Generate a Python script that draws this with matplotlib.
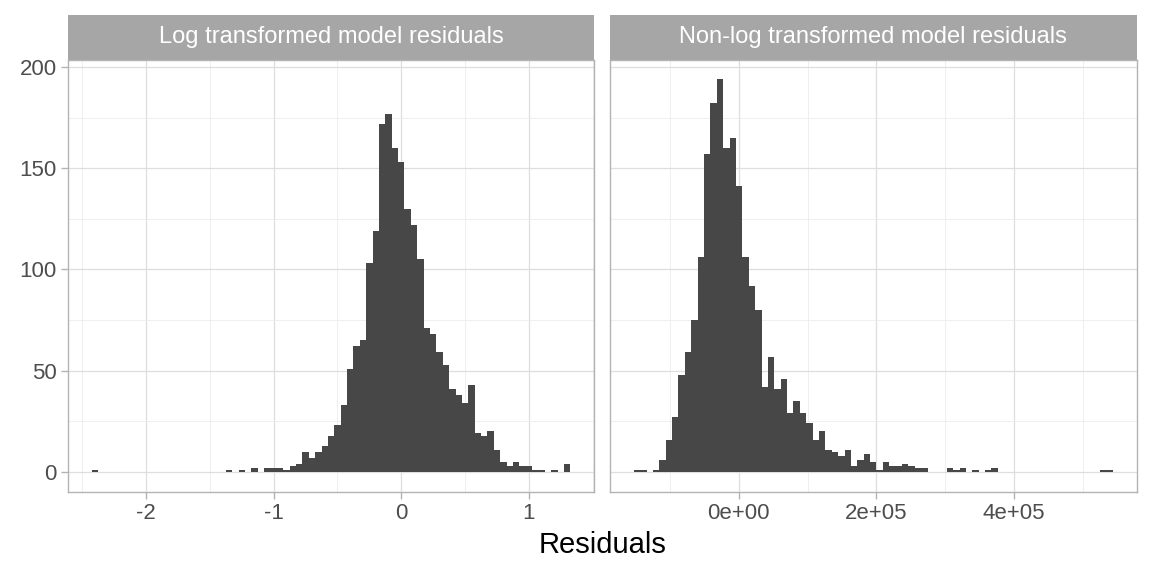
import numpy as np
import matplotlib
matplotlib.use("Agg")
import matplotlib.pyplot as plt
from matplotlib.patches import Rectangle

plt.rcParams['font.family'] = ['Liberation Sans', 'DejaVu Sans']

# panel titles
panel_titles = ["Log transformed model residuals", "Non-log transformed model residuals"]

# histogram counts (75 bins per panel)
left_range = (-2.425, 1.325)
left_counts = [
    1, 0, 0, 0, 0, 0, 0, 0, 0, 0, 0,
    0, 0, 0, 0, 0, 0, 0, 0, 0, 0,
    1, 0, 1, 0, 2, 0, 2, 2, 2, 1, 3, 4, 10, 7, 10, 13,
    18, 23, 33, 51, 62, 65, 103, 119, 172, 177,
    160, 153, 130, 122, 105, 71, 68, 59, 53, 41,
    38, 34, 43, 19, 18, 20, 11, 5, 3, 5,
    3, 3, 1, 1, 0, 1, 0, 4,
]

right_range = (-152270, 543260)
right_counts = [
    1, 1, 0, 1, 6, 16, 27, 48, 59, 75,
    106, 157, 182, 194, 160, 165, 141, 106, 92, 80,
    42, 57, 41, 46, 29, 35, 29, 24, 16, 20,
    11, 10, 8, 11, 3, 6, 9, 5, 1, 5,
    3, 3, 4, 3, 2, 2, 0, 0, 0, 2,
    1, 2, 0, 1, 0, 1, 2, 0, 0, 0,
    0, 0, 0, 0, 0, 0, 0, 0, 0, 0,
    0, 0, 0, 1, 1,
]

# axis ticks
y_ticks = [0, 50, 100, 150, 200]
y_minor = [25, 75, 125, 175]
left_xticks = [-2, -1, 0, 1]
left_xlabels = ["-2", "-1", "0", "1"]
left_xminor = [-2.5, -1.5, -0.5, 0.5, 1.5]
right_xticks = [0, 200000, 400000]
right_xlabels = ["0e+00", "2e+05", "4e+05"]
right_xminor = [-100000, 100000, 300000, 500000]

bar_col = "#474747"
border_col = "#b3b3b3"
strip_col = "#a6a6a6"
grid_major = "#dedede"
grid_minor = "#ececec"
text_col = "#4d4d4d"

W, H = 1152, 576
fig = plt.figure(figsize=(W / 100, H / 100), dpi=100)

panel_top, panel_bot = 59.5, 491.6
strip_top = 15.0
ax_h = (panel_bot - panel_top) / H
ax_b = (H - panel_bot) / H
strip_frac = (panel_top - strip_top) / (panel_bot - panel_top)

ax1 = fig.add_axes([67.9 / W, ax_b, (594.3 - 67.9) / W, ax_h])
ax2 = fig.add_axes([609.8 / W, ax_b, (1136.8 - 609.8) / W, ax_h])

panels = [
    (ax1, left_counts, left_range, left_xticks, left_xlabels, left_xminor),
    (ax2, right_counts, right_range, right_xticks, right_xlabels, right_xminor),
]

ymax = max(max(left_counts), max(right_counts))

for i, (ax, counts, rng, xt, xl, xm) in enumerate(panels):
    counts = np.array(counts)
    edges = np.linspace(rng[0], rng[1], len(counts) + 1)
    ax.bar(edges[:-1], counts, width=np.diff(edges), align='edge',
           color=bar_col, linewidth=0, zorder=3)

    span = rng[1] - rng[0]
    ax.set_xlim(rng[0] - 0.05 * span, rng[1] + 0.05 * span)
    ax.set_ylim(-0.05 * ymax, 1.05 * ymax)

    ax.set_xticks(xt)
    ax.set_xticklabels(xl)
    ax.set_xticks(xm, minor=True)
    ax.set_yticks(y_ticks)
    ax.set_yticks(y_minor, minor=True)

    ax.grid(True, which='major', color=grid_major, linewidth=0.9, zorder=0)
    ax.grid(True, which='minor', color=grid_minor, linewidth=0.6, zorder=0)
    ax.set_axisbelow(True)

    for s in ax.spines.values():
        s.set_color(border_col)
        s.set_linewidth(1.0)

    ax.tick_params(which='major', length=5, width=1.0, color=border_col,
                   labelsize=16, labelcolor=text_col, pad=3)
    ax.tick_params(which='minor', length=0)

    if i == 0:
        ax.set_yticklabels([str(v) for v in y_ticks])
    else:
        ax.tick_params(axis='y', which='both', left=False, labelleft=False)

    # facet strip
    ax.add_patch(Rectangle((0, 1), 1, strip_frac, transform=ax.transAxes,
                           facecolor=strip_col, edgecolor='none', clip_on=False))
    ax.text(0.5, 1 + strip_frac / 2, panel_titles[i], transform=ax.transAxes,
            ha='center', va='center', color='white', fontsize=17)

fig.text((67.9 + 1136.8) / 2 / W, (H - 545) / H, "Residuals",
         ha='center', va='center', fontsize=21, color='black')

fig.savefig("out.png", dpi=100)
